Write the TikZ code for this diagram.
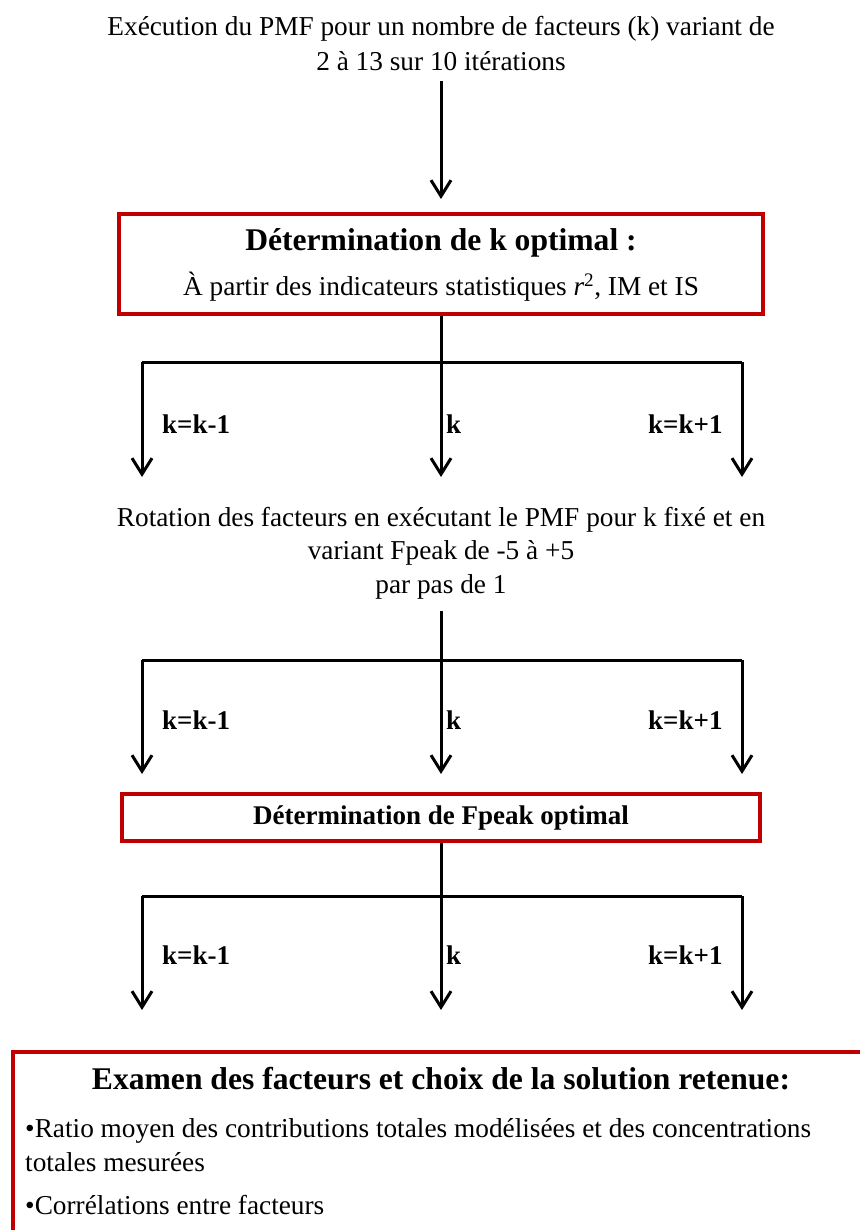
\documentclass[tikz,border=0pt]{standalone}
\usepackage{fontspec}
\setmainfont{Liberation Serif}
\usetikzlibrary{arrows.meta,positioning}

\definecolor{boxred}{RGB}{192,0,0}

\tikzset{
  conn/.style={line width=3pt},
  arr/.style={conn, -{Straight Barb[length=16pt,width=20pt]}},
  redbox/.style={draw=boxred, line width=4pt, inner sep=0pt},
  bodytxt/.style={font=\fontsize{27.3}{35}\selectfont, align=center, inner sep=0pt},
  titletxt/.style={font=\fontsize{31.6}{38}\selectfont\bfseries, inner sep=0pt},
  lbl/.style={font=\fontsize{27}{32}\selectfont\bfseries, anchor=west, inner sep=0pt},
}

\begin{document}
\begin{tikzpicture}[x=1pt,y=-1pt]
  \useasboundingbox (0,0) rectangle (859,1230);
  % Geometry
  \def\xL{142}
  \def\xM{441}
  \def\xR{742}
  % Start: PMF runs
  \node[bodytxt] (exec) at (\xM,44) {Exécution du PMF pour un nombre de facteurs (k) variant de\\2 à 13 sur 10 itérations};
  % Optimal k
  \node[redbox, minimum width=644pt, minimum height=100pt] (kopt) at (\xM,264) {};
  \node[titletxt] (kopttitle) at (\xM,243) {Détermination de k optimal :};
  \node[bodytxt] (koptsub) at (\xM,287) {À partir des indicateurs statistiques \textit{r}\textsuperscript{2}, IM et IS};
  \draw[arr, shorten <=10pt, shorten >=13pt] (exec.south) -- (kopt.north);
  % Rotation
  \node[bodytxt, font=\fontsize{27.3}{33.5}\selectfont] (rot) at (\xM,553) {Rotation des facteurs en exécutant le PMF pour k fixé et en\\variant Fpeak de -5 à +5\\par pas de 1};
  % Optimal Fpeak
  \node[redbox, minimum width=638pt, minimum height=47pt, font=\fontsize{27}{32}\selectfont\bfseries] (fpeak) at (\xM,817.5) {Détermination de Fpeak optimal};
  % Final choice (box runs off the page)
  \node[redbox, anchor=north west, minimum width=900pt, minimum height=260pt] (result) at (11,1050) {};
  \node[titletxt] (examen) at (\xM,1079) {Examen des facteurs et choix de la solution retenue:};
  \node[bodytxt, align=left, anchor=west, font=\fontsize{27.3}{34}\selectfont] (ratio) at (25,1145) {•Ratio moyen des contributions totales modélisées et des concentrations\\totales mesurées};
  \node[bodytxt, anchor=west] (correl) at (25,1205) {•Corrélations entre facteurs};
  % Three-way branches
  \foreach \i/\yb/\ye/\yk in {1/362/477/424,2/660/774/720,3/896/1010/955}{
    \coordinate (b\i-l) at (\xL,\yb);
    \coordinate (b\i-m) at (\xM,\yb);
    \coordinate (b\i-r) at (\xR,\yb);
    \draw[conn] (b\i-l) -- (b\i-r);
    \foreach \n in {l,m,r}
      \draw[arr] (b\i-\n) -- ++(0,\ye-\yb);
    \node[lbl] (k\i-l) at (162,\yk) {k=k-1};
    \node[lbl] (k\i-m) at (446,\yk) {k};
    \node[lbl] (k\i-r) at (648,\yk) {k=k+1};
  }
  \draw[conn] (kopt.south) -- (b1-m);
  \draw[conn] (rot.south) ++(0,-12pt) -- (b2-m);
  \draw[conn] (fpeak.south) -- (b3-m);
\end{tikzpicture}
\end{document}
